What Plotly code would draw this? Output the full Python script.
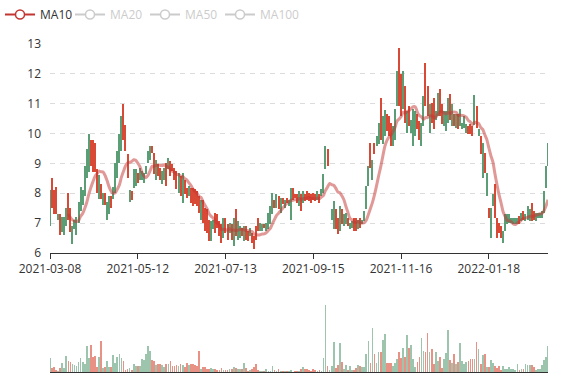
import plotly.graph_objects as go
import pandas as pd

# x-axis: trading-day index, labelled every 43 sessions
tick_index = [0, 43, 86, 129, 172, 215]
tick_labels = ["2021-03-08", "2021-05-12", "2021-07-13", "2021-09-15", "2021-11-16", "2022-01-18"]

open_ = [
    6.98, 8.42, 8.02, 8.12, 7.18, 7.22, 6.78, 6.68, 6.98, 7.92,
    7.42, 6.38, 6.88, 6.68, 7.08, 7.48, 7.68, 7.98, 8.58, 8.78,
    9.72, 9.72, 9.62, 8.72, 7.88, 8.22, 7.68, 7.92, 7.18, 7.38,
    7.82, 7.88, 8.08, 8.58, 9.08, 9.48, 10.92, 10.22, 9.22, 7.78,
    7.99, 8.26, 8.32, 8.61, 8.54, 8.54, 8.43, 8.71, 9.10, 9.21,
    9.50, 9.28, 8.54, 8.89, 8.77, 8.38, 8.54, 8.94, 8.88, 9.00,
    8.89, 8.77, 8.66, 8.10, 8.50, 7.76, 8.38, 8.10, 7.99, 8.10,
    8.10, 8.05, 7.99, 7.83, 7.20, 7.71, 7.43, 7.38, 7.04, 6.48,
    6.87, 7.27, 7.21, 6.99, 6.88, 6.59, 7.10, 6.88, 6.76, 6.88,
    6.31, 7.38, 6.53, 6.59, 6.76, 6.48, 6.82, 6.65, 6.64, 6.60,
    6.48, 6.82, 7.10, 6.81, 6.81, 6.92, 6.81, 6.87, 7.04, 7.37,
    7.71, 7.59, 7.83, 7.43, 7.77, 7.59, 7.79, 7.65, 7.20, 8.10,
    7.94, 7.88, 7.65, 7.88, 7.76, 7.88, 7.99, 7.94, 7.88, 7.94,
    7.88, 7.87, 7.88, 7.99, 8.10, 8.88, 9.39, 8.99, 7.20, 6.87,
    7.38, 7.10, 6.81, 7.38, 6.98, 7.04, 7.10, 6.87, 6.92, 7.10,
    7.10, 6.87, 7.10, 7.00, 7.15, 7.54, 8.32, 9.61, 8.54, 9.61,
    9.66, 9.72, 11.12, 9.72, 10.00, 10.56, 10.51, 10.28, 9.66, 9.88,
    11.00, 12.80, 11.90, 10.89, 11.51, 10.11, 10.84, 10.11, 9.66, 10.00,
    10.56, 10.34, 9.66, 10.33, 12.29, 11.51, 10.11, 10.95, 11.12, 10.55,
    10.67, 11.40, 10.90, 10.33, 10.16, 10.44, 11.23, 10.33, 10.56, 10.28,
    10.56, 10.33, 10.22, 10.28, 10.11, 10.17, 10.23, 10.17, 10.38, 10.84,
    9.98, 9.84, 8.60, 9.28, 7.99, 7.43, 6.59, 7.65, 8.22, 7.10,
    6.93, 6.82, 6.40, 6.81, 7.04, 7.09, 7.05, 7.04, 7.04, 7.04,
    7.15, 7.15, 7.32, 7.15, 7.20, 7.15, 7.60, 7.32, 7.15, 7.22,
    7.22, 7.24, 7.43, 8.26, 8.99,
]
high = [
    8.10, 8.50, 8.10, 8.20, 7.30, 7.30, 7.20, 7.20, 7.50, 8.00,
    7.50, 6.90, 7.10, 7.20, 7.70, 8.20, 8.10, 8.90, 9.50, 10.00,
    9.80, 9.80, 9.70, 8.80, 8.60, 8.30, 8.00, 8.00, 7.70, 7.90,
    7.90, 8.20, 9.00, 9.40, 10.00, 10.60, 11.00, 10.30, 9.30, 8.10,
    8.07, 8.80, 8.80, 8.69, 8.85, 8.74, 8.69, 8.91, 9.41, 9.58,
    9.58, 9.36, 9.13, 8.97, 8.85, 8.74, 8.85, 9.02, 9.19, 9.08,
    8.97, 8.85, 8.74, 8.69, 8.58, 8.69, 8.46, 8.18, 8.24, 8.18,
    8.18, 8.13, 8.07, 7.91, 7.79, 7.79, 7.51, 7.46, 7.12, 7.07,
    7.12, 7.35, 7.29, 7.07, 6.96, 7.18, 7.18, 6.96, 7.01, 6.96,
    7.18, 7.46, 7.07, 6.90, 6.84, 6.90, 6.90, 6.73, 6.84, 6.68,
    6.56, 6.90, 7.18, 7.01, 6.96, 6.96, 7.01, 7.35, 7.57, 8.02,
    7.79, 7.96, 7.91, 7.85, 7.85, 7.79, 7.85, 7.79, 8.18, 8.18,
    7.96, 7.96, 8.07, 7.96, 8.07, 7.96, 8.07, 8.02, 7.96, 8.02,
    7.96, 8.07, 7.96, 8.13, 8.63, 9.58, 9.47, 8.99, 7.46, 7.74,
    7.46, 7.18, 7.57, 7.46, 7.29, 7.35, 7.18, 7.01, 7.07, 7.18,
    7.18, 7.12, 7.18, 7.12, 7.40, 8.24, 8.91, 9.69, 9.13, 9.69,
    9.92, 10.36, 11.20, 10.59, 10.78, 10.64, 10.59, 10.36, 10.27, 10.81,
    12.09, 12.88, 11.98, 12.09, 11.59, 10.75, 10.92, 10.47, 10.81, 10.75,
    10.64, 10.42, 10.36, 11.26, 12.37, 11.59, 10.98, 11.03, 11.20, 10.75,
    11.37, 11.48, 10.98, 10.75, 10.75, 11.20, 11.31, 10.98, 10.64, 10.64,
    10.64, 10.81, 10.36, 10.59, 10.31, 10.25, 10.31, 10.25, 11.30, 10.92,
    10.14, 9.92, 9.69, 9.36, 8.69, 7.51, 7.51, 7.96, 8.30, 7.18,
    7.01, 6.90, 6.73, 7.29, 7.29, 7.29, 7.18, 7.18, 7.18, 7.18,
    7.23, 7.35, 7.40, 7.29, 7.57, 7.46, 7.68, 7.40, 7.35, 7.35,
    7.35, 7.40, 8.07, 8.91, 9.69,
]
low = [
    6.90, 7.50, 7.30, 7.30, 7.10, 6.60, 6.70, 6.60, 6.90, 7.10,
    6.70, 6.30, 6.80, 6.60, 7.00, 7.40, 7.60, 7.90, 8.50, 8.70,
    8.90, 8.70, 8.70, 8.00, 7.80, 7.80, 7.60, 7.60, 7.10, 7.30,
    7.50, 7.80, 8.00, 8.50, 9.00, 9.40, 9.80, 9.40, 8.50, 7.70,
    7.79, 8.18, 8.24, 8.35, 8.46, 8.46, 8.35, 8.63, 9.02, 9.13,
    9.36, 8.63, 8.46, 8.58, 8.46, 8.30, 8.46, 8.24, 8.80, 8.58,
    8.74, 8.46, 8.13, 8.02, 7.91, 7.68, 7.96, 7.85, 7.91, 7.68,
    7.57, 7.63, 7.57, 7.35, 7.12, 7.01, 6.73, 6.68, 6.40, 6.40,
    6.79, 6.68, 6.84, 6.56, 6.34, 6.51, 6.68, 6.45, 6.68, 6.45,
    6.23, 6.56, 6.45, 6.51, 6.56, 6.40, 6.45, 6.40, 6.56, 6.34,
    6.12, 6.45, 6.73, 6.73, 6.73, 6.84, 6.73, 6.79, 6.96, 7.29,
    7.51, 7.51, 7.46, 7.35, 7.63, 7.51, 7.68, 7.57, 7.12, 7.79,
    7.85, 7.68, 7.57, 7.40, 7.68, 7.74, 7.79, 7.74, 7.68, 7.79,
    7.74, 7.79, 7.68, 7.91, 8.02, 8.80, 8.91, 8.99, 7.12, 6.79,
    6.79, 6.62, 6.73, 6.96, 6.90, 6.96, 6.90, 6.79, 6.84, 6.73,
    6.73, 6.79, 6.84, 6.96, 7.07, 7.46, 8.24, 8.85, 8.46, 9.30,
    9.58, 9.64, 9.80, 9.64, 9.92, 10.08, 9.92, 9.60, 9.58, 9.80,
    10.92, 10.92, 10.59, 10.81, 10.36, 10.03, 10.25, 10.03, 9.58, 9.92,
    10.14, 9.80, 9.58, 10.25, 10.92, 10.59, 10.03, 10.36, 10.14, 10.47,
    10.59, 10.59, 10.31, 10.25, 10.08, 10.36, 10.47, 10.25, 10.25, 10.20,
    10.14, 10.25, 10.14, 10.20, 10.03, 9.97, 9.97, 9.92, 10.30, 10.20,
    9.92, 9.30, 8.52, 8.69, 7.91, 7.18, 6.51, 7.57, 7.18, 6.51,
    6.68, 6.51, 6.32, 6.73, 6.96, 7.01, 7.01, 6.96, 6.96, 6.98,
    6.96, 7.07, 7.12, 7.07, 7.12, 7.07, 7.07, 7.12, 7.07, 7.18,
    7.18, 7.18, 7.35, 8.18, 8.91,
]
close = [
    8.02, 7.58, 7.38, 7.38, 7.22, 6.68, 7.12, 7.12, 7.42, 7.18,
    6.78, 6.82, 7.02, 7.12, 7.62, 8.12, 8.02, 8.82, 9.42, 9.92,
    8.98, 8.78, 8.78, 8.08, 8.52, 7.88, 7.92, 7.68, 7.62, 7.82,
    7.58, 8.12, 8.92, 9.32, 9.92, 10.52, 9.88, 9.48, 8.58, 8.02,
    7.87, 8.72, 8.72, 8.43, 8.77, 8.66, 8.61, 8.83, 9.33, 9.50,
    9.44, 8.71, 9.05, 8.66, 8.54, 8.66, 8.77, 8.32, 9.11, 8.66,
    8.82, 8.54, 8.21, 8.61, 7.99, 8.61, 8.04, 7.93, 8.16, 7.76,
    7.65, 7.71, 7.65, 7.43, 7.71, 7.09, 6.81, 6.76, 6.48, 6.99,
    7.04, 6.76, 6.92, 6.64, 6.42, 7.10, 6.76, 6.53, 6.93, 6.53,
    7.10, 6.64, 6.99, 6.82, 6.64, 6.82, 6.53, 6.48, 6.76, 6.42,
    6.20, 6.53, 6.81, 6.93, 6.88, 6.88, 6.93, 7.27, 7.49, 7.94,
    7.59, 7.88, 7.54, 7.77, 7.71, 7.71, 7.74, 7.71, 8.10, 7.87,
    7.87, 7.76, 7.99, 7.48, 7.99, 7.82, 7.87, 7.82, 7.76, 7.87,
    7.82, 7.99, 7.76, 8.05, 8.55, 9.50, 8.99, 8.99, 7.38, 7.66,
    6.87, 6.70, 7.49, 7.04, 7.21, 7.27, 6.98, 6.93, 6.99, 6.81,
    6.81, 7.04, 6.92, 7.08, 7.32, 8.16, 8.83, 8.93, 9.05, 9.38,
    9.84, 10.28, 9.88, 10.51, 10.70, 10.16, 10.00, 9.68, 10.19, 10.73,
    12.01, 11.00, 10.67, 12.01, 10.44, 10.67, 10.33, 10.39, 10.73, 10.67,
    10.22, 9.88, 10.28, 11.18, 11.00, 10.67, 10.90, 10.44, 10.22, 10.67,
    11.29, 10.67, 10.39, 10.67, 10.67, 11.12, 10.55, 10.90, 10.33, 10.56,
    10.22, 10.73, 10.28, 10.51, 10.23, 10.05, 10.05, 10.00, 11.22, 10.28,
    10.08, 9.38, 9.61, 8.77, 8.61, 7.26, 7.43, 7.88, 7.26, 6.59,
    6.76, 6.59, 6.65, 7.21, 7.21, 7.21, 7.14, 7.10, 7.10, 7.12,
    7.04, 7.30, 7.20, 7.27, 7.55, 7.44, 7.15, 7.20, 7.34, 7.35,
    7.35, 7.40, 8.05, 8.89, 9.67,
]
volume = [
    14, 4, 5, 2.3, 0.7, 4, 9, 4, 16, 11,
    10, 8, 7, 6, 10, 14, 10, 8, 26, 14,
    27, 15, 16, 5, 15, 31, 4, 5, 11, 5,
    5, 17, 9, 15, 18, 14, 11, 1.7, 2.7, 4,
    1.7, 8, 6, 6, 6, 13, 12, 18, 26, 21,
    12, 11, 7, 8, 8, 7, 5, 8, 8, 11,
    6, 6, 7, 6, 8, 7, 5, 9, 7, 8,
    8, 7, 6, 21, 3, 5, 5, 3, 3, 4,
    3, 3, 2, 2, 4, 2, 2, 2, 3, 3,
    5, 4, 3, 3, 3, 9, 4, 1, 2, 3,
    5, 8, 2, 1.3, 1.3, 1.3, 3, 1.3, 1.3, 6,
    2, 1.3, 3, 1.3, 1.3, 1, 1, 1, 2, 0.5,
    1, 1, 1, 3, 5, 3, 3, 2, 1, 3,
    2, 1, 2, 1, 14, 67, 6, 2, 6, 30,
    4, 7, 29, 10, 3, 7, 2, 6, 2, 2,
    4, 7, 6, 5, 5, 18, 31, 9, 44, 18,
    9, 20, 20, 32, 38, 9, 9, 9, 6, 9,
    13, 20, 14, 24, 15, 37, 24, 27, 13, 5,
    10, 15, 34, 21, 20, 39, 20, 23, 8, 20,
    11, 15, 4, 13, 19, 42, 12, 9, 18, 8,
    10, 29, 11, 8, 10, 11, 13, 13, 13, 30,
    23, 8, 17, 18, 5, 5, 12, 9, 6, 4,
    6, 2, 6, 3, 3, 5, 3, 3, 2, 8,
    2, 3, 3, 8, 7, 7, 7, 5, 2, 3,
    3, 7, 12, 15, 26,
]

n = len(close)
idx = list(range(n))
rising = [c >= o for o, c in zip(open_, close)]

UP, DOWN = "#5b9e76", "#d94a36"
UP_VOL, DOWN_VOL = "rgba(91,158,118,0.6)", "rgba(217,74,54,0.6)"
MA_COLOR = "#c23531"
OFF = "#999999"
FONT = "Open Sans"

closes = pd.Series(close)
ma = {p: closes.rolling(p).mean() for p in (10, 20, 50, 100)}

fig = go.Figure()

# price range bars (high-low), coloured by direction
fig.add_trace(go.Bar(
    x=idx, y=[h - l for h, l in zip(high, low)], base=low,
    marker=dict(color=[UP if r else DOWN for r in rising], line=dict(width=0)),
    width=0.55, showlegend=False, hoverinfo="skip",
    xaxis="x", yaxis="y",
))

# MA10 line
fig.add_trace(go.Scatter(
    x=idx, y=ma[10], mode="lines", opacity=0.5,
    line=dict(color=MA_COLOR, width=3, shape="spline", smoothing=0.6),
    showlegend=False, hoverinfo="skip", xaxis="x", yaxis="y",
))

# legend entries
fig.add_trace(go.Scatter(
    x=[None], y=[None], name="MA10", mode="lines+markers",
    line=dict(color=MA_COLOR, width=2),
    marker=dict(symbol="circle", size=9, color="white", line=dict(color=MA_COLOR, width=1.5)),
    legend="legend", xaxis="x", yaxis="y",
))
for p, leg in ((20, "legend2"), (50, "legend3"), (100, "legend4")):
    fig.add_trace(go.Scatter(
        x=idx, y=ma[p], name=f"MA{p}", mode="lines+markers", visible="legendonly",
        line=dict(color=OFF, width=2),
        marker=dict(symbol="circle", size=9, color="white", line=dict(color=OFF, width=1.5)),
        legend=leg, xaxis="x", yaxis="y",
    ))

# volume
fig.add_trace(go.Bar(
    x=idx, y=volume,
    marker=dict(color=[UP_VOL if r else DOWN_VOL for r in rising], line=dict(width=0)),
    width=0.85, showlegend=False, hoverinfo="skip",
    xaxis="x2", yaxis="y2",
))

W, H = 577, 380


def legend_at(px, color):
    return dict(
        x=px / W, y=1.0, xref="container", yref="container",
        xanchor="left", yanchor="top", orientation="h",
        bgcolor="rgba(0,0,0,0)", borderwidth=0, itemwidth=30,
        font=dict(family=FONT, size=12, color=color),
    )


fig.update_layout(
    width=W, height=H,
    margin=dict(l=50, r=29, t=44, b=8, pad=0, autoexpand=False),
    paper_bgcolor="white", plot_bgcolor="white",
    font=dict(family=FONT, size=12, color="#333"),
    barmode="overlay", bargap=0, hovermode=False,
    xaxis=dict(
        domain=[0, 1], range=[0, n - 1], anchor="y",
        tickmode="array", tickvals=tick_index, ticktext=tick_labels,
        ticks="outside", ticklen=5, tickcolor="#333", tickwidth=1,
        showline=True, linecolor="#333", linewidth=1,
        showgrid=False, zeroline=False,
        tickfont=dict(family=FONT, size=12, color="#333"),
    ),
    yaxis=dict(
        domain=[119 / 328, 1], range=[6, 13], tick0=6, dtick=1,
        showgrid=True, gridcolor="#dcdcdc", griddash="5px,5px", gridwidth=1,
        zeroline=False, showline=False, ticks="", ticklabelstandoff=8,
        tickfont=dict(family=FONT, size=12, color="#333"),
    ),
    xaxis2=dict(
        domain=[0, 1], range=[0, n - 1], anchor="y2", matches="x",
        showticklabels=False, ticks="", showline=True, linecolor="#333",
        linewidth=1, showgrid=False, zeroline=False,
    ),
    yaxis2=dict(domain=[0, 82 / 328], range=[0, 82], visible=False),
    legend=legend_at(0, "#333"),
    legend2=legend_at(70, OFF),
    legend3=legend_at(145, OFF),
    legend4=legend_at(220, OFF),
)

fig.write_html("out.html")
